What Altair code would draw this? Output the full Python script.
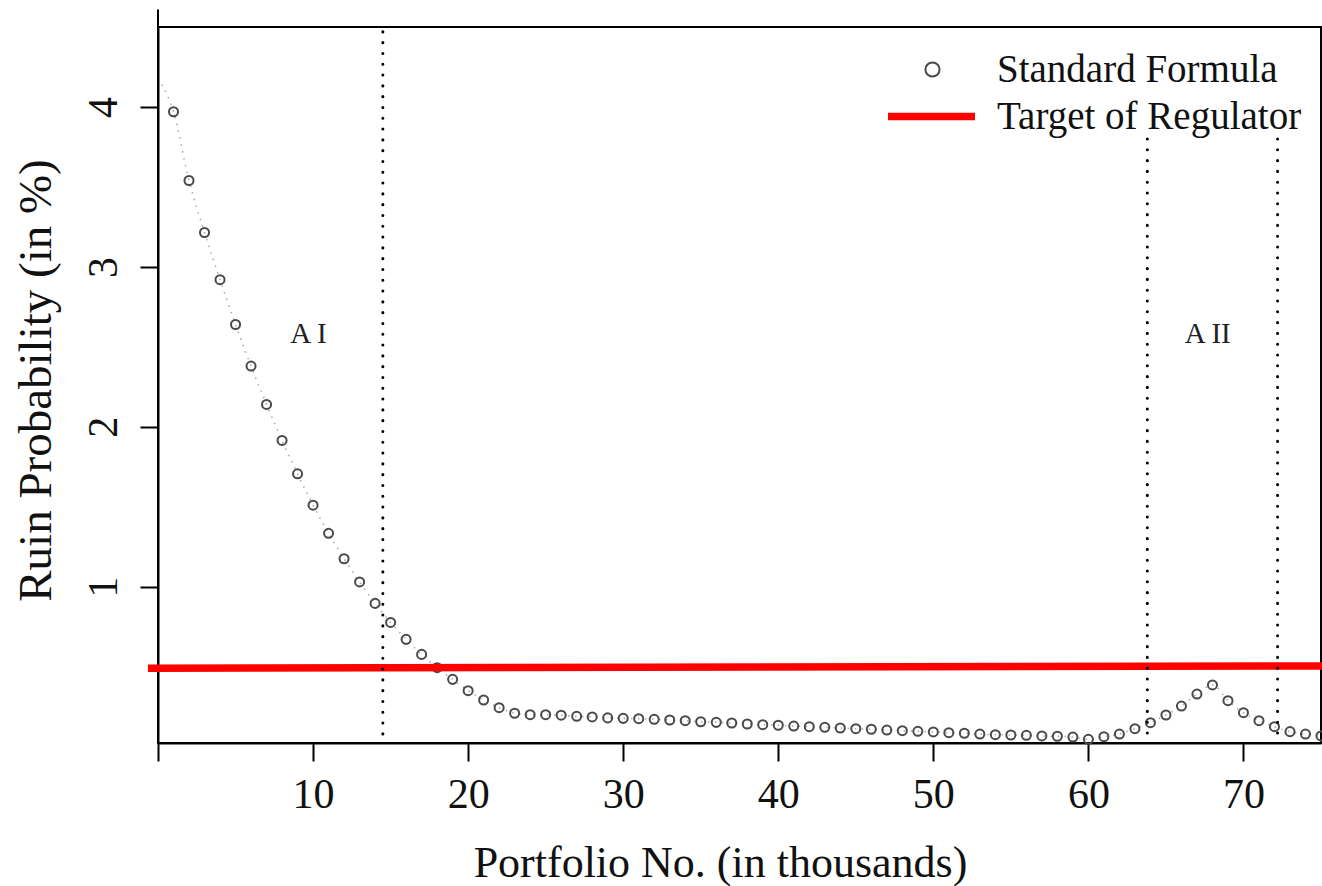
import altair as alt
import pandas as pd

# ---------------- data ----------------
portfolio = list(range(1, 76))
ruin_prob = [
    3.97, 3.54, 3.215, 2.92, 2.64, 2.38, 2.14, 1.915, 1.706, 1.51,
    1.334, 1.175, 1.03, 0.896, 0.777, 0.671, 0.577, 0.494, 0.421, 0.35,
    0.292, 0.244, 0.209, 0.200, 0.200, 0.197, 0.19, 0.186, 0.18, 0.177,
    0.175, 0.171, 0.167, 0.1625, 0.156, 0.152, 0.148, 0.142, 0.1375, 0.134,
    0.129, 0.125, 0.121, 0.117, 0.1125, 0.109, 0.104, 0.1, 0.096, 0.092,
    0.0875, 0.084, 0.079, 0.075, 0.073, 0.071, 0.067, 0.065, 0.06, 0.046,
    0.0625, 0.079, 0.1125, 0.15, 0.198, 0.254, 0.329, 0.386, 0.2875, 0.2125,
    0.1625, 0.125, 0.094, 0.079, 0.067,
]
curve_start_x = [0.25]
curve_start_y = [4.14]

target_x = [-0.65, 75.3]
target_y = [0.49, 0.505]

bound_x = [14.5, 63.8, 72.2]
bound_top = [4.47, 3.8, 3.8]
bound_bottom = [0.08, 0.067, 0.067]

region_labels = ["A I", "A II"]
region_x = [9.7, 67.7]
region_y = [2.525, 2.525]

axis_ext_x = [0]
axis_ext_y = [4.5]
axis_ext_y2 = [4.61]

x_ticks = [0, 10, 20, 30, 40, 50, 60, 70]
y_ticks = [1, 2, 3, 4]

SERIF = "Liberation Serif"

# ---------------- tables ----------------
pts = pd.DataFrame({"x": portfolio, "y": ruin_prob, "series": "Standard Formula"})
curve = pd.DataFrame({"x": curve_start_x + portfolio, "y": curve_start_y + ruin_prob})
target = pd.DataFrame({"x": target_x, "y": target_y, "series": "Target of Regulator"})
bounds = pd.DataFrame({"x": bound_x, "y": bound_top, "y2": bound_bottom})
regions = pd.DataFrame({"x": region_x, "y": region_y, "label": region_labels})
axis_ext = pd.DataFrame({"x": axis_ext_x, "y": axis_ext_y, "y2": axis_ext_y2})

X = alt.X(
    "x:Q",
    scale=alt.Scale(domain=[0, 75], nice=False, zero=False),
    axis=alt.Axis(
        values=x_ticks,
        title="Portfolio No. (in thousands)",
        labelExpr="datum.value == 0 ? '' : datum.label",
        labelBaseline="alphabetic",
        labelPadding=46,
        titleX=562,
        titleY=133,
        titleAlign="center",
        titleBaseline="alphabetic",
        titleAngle=0,
        titleFontSize=44,
    ),
)
Y = alt.Y(
    "y:Q",
    scale=alt.Scale(domain=[0.023, 4.5], nice=False, zero=False),
    axis=alt.Axis(
        values=y_ticks,
        title="Ruin Probability (in %)",
        labelAngle=270,
        labelAlign="center",
        labelBaseline="alphabetic",
        labelPadding=24,
        titleX=-108,
        titleY=353,
        titleAngle=270,
        titleAlign="center",
        titleBaseline="alphabetic",
        titleFontSize=47,
    ),
)

curve_layer = alt.Chart(curve).mark_line(
    color="#a8a8a8", strokeWidth=1.5, strokeDash=[1.5, 5.5], interpolate="monotone"
).encode(x=X, y=Y)

bound_layer = alt.Chart(bounds).mark_rule(
    color="black", strokeWidth=3, strokeDash=[0.1, 10.7], strokeCap="round"
).encode(x=X, y=Y, y2="y2:Q")

point_layer = alt.Chart(pts).mark_point(
    shape="circle", filled=False, size=82, strokeWidth=2, opacity=1
).encode(
    x=X,
    y=Y,
    color=alt.Color(
        "series:N",
        scale=alt.Scale(domain=["Standard Formula"], range=["#4a4a4a"]),
        legend=alt.Legend(
            title=None, orient="none", legendX=755, legendY=23,
            symbolType="circle", symbolSize=200, symbolStrokeWidth=2,
            symbolOpacity=1,
            labelFont=SERIF, labelFontSize=39, labelColor="#111111",
            labelOffset=45, labelLimit=600, padding=0, rowPadding=0,
        ),
    ),
)

target_layer = alt.Chart(target).mark_line(
    strokeWidth=7.5, clip=False
).encode(
    x=X,
    y=Y,
    color=alt.Color(
        "series:N",
        scale=alt.Scale(domain=["Target of Regulator"], range=["#ff0000"]),
        legend=alt.Legend(
            title=None, orient="none", legendX=726, legendY=42,
            symbolType="stroke", symbolSize=7569, symbolStrokeWidth=7.5,
            labelFont=SERIF, labelFontSize=39, labelColor="#111111",
            labelOffset=18, labelLimit=600, padding=0, rowPadding=0,
        ),
    ),
)

text_layer = alt.Chart(regions).mark_text(
    font=SERIF, fontSize=29, baseline="alphabetic", align="center", color="#222222"
).encode(x=X, y=Y, text="label:N")

ext_layer = alt.Chart(axis_ext).mark_rule(
    color="black", strokeWidth=2, clip=False
).encode(x=X, y=Y, y2="y2:Q")

chart = (
    alt.layer(curve_layer, point_layer, target_layer, bound_layer, text_layer, ext_layer)
    .resolve_scale(color="independent")
    .resolve_legend(color="independent")
    .properties(
        width=1163,
        height=716,
        autosize=alt.AutoSizeParams(type="none"),
        padding={"left": 158, "top": 27, "right": 1, "bottom": 143},
        background="white",
    )
    .configure_view(stroke="black", strokeWidth=2)
    .configure_axis(
        grid=False,
        domainColor="black",
        domainWidth=2,
        tickColor="black",
        tickWidth=2,
        tickSize=18,
        labelFont=SERIF,
        labelFontSize=42,
        labelColor="#111111",
        titleFont=SERIF,
        titleFontWeight="normal",
        titleColor="#111111",
    )
)

chart.save("out.html", embed_options={"renderer": "svg", "actions": False})
